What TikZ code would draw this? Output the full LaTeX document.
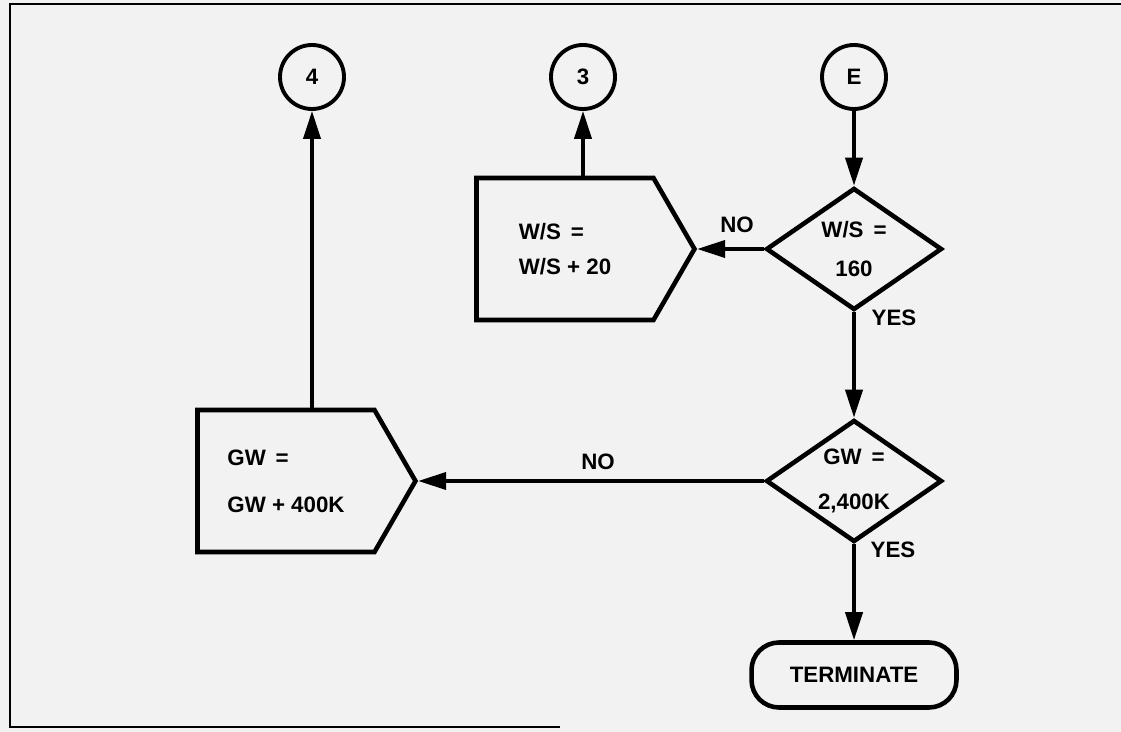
\documentclass[tikz,border=0pt]{standalone}
\usepackage{fontspec}
\setmainfont{Liberation Sans}
\usepackage{xcolor}
\usetikzlibrary{arrows.meta, positioning, calc, shapes.geometric, shapes.symbols}
\definecolor{paper}{RGB}{242,242,242}
\tikzset{
  connector/.style={draw, circle, line width=2.2pt, minimum size=1.28cm, inner sep=0pt},
  decision/.style={draw, diamond, aspect=1.45, line width=2.6pt, minimum width=3.52cm, minimum height=2.44cm, inner sep=0pt, align=center},
  process/.style={draw, signal, signal to=east, signal pointer angle=120, line width=2.6pt, minimum width=4.36cm, minimum height=2.84cm, inner sep=0pt, align=left},
  terminal/.style={draw, rounded corners=0.55cm, line width=2.6pt, minimum width=4.1cm, minimum height=1.3cm},
  flow/.style={-{Triangle[length=0.56cm, width=0.34cm]}, line width=2.2pt}
}

\begin{document}
\begin{tikzpicture}[x=0.02cm, y=-0.02cm, font=\fontsize{12.7}{15.2}\selectfont\bfseries]
        \useasboundingbox (0,0) rectangle (1121,732);
        \fill[paper] (0,0) rectangle (1121,732);

        % Page frame
        \draw[line width=1.2pt] (1121,4) -- (10,4) -- (10,727) -- (560,727);

        % Connectors
        \node[connector] (c4) at (312,77) {4};
        \node[connector] (c3) at (583,77) {3};
        \node[connector] (ce) at (854,77) {E};

        % Tests
        \node[decision] (ws test) at (854,249) {W/S \,=\\[0.26cm] 160};
        \node[decision] (gw test) at (854,481) {GW \,=\\[0.36cm] 2,400K};

        % Steps
        \node[process] (ws step) at (565,249) {W/S \,=\\[0.18cm] W/S + 20};
        \node[process] (gw step) at (286,481) {GW \,=\\[0.4cm] GW + 400K};
        \node[terminal] (stop) at (854,675) {TERMINATE};

        % Links
        \draw[flow] (ce) -- (ws test);
        \draw[flow] (ws test) -- (ws step.east);
        \draw[flow] (c3 |- ws step.north) -- (c3);
        \draw[flow] (ws test) -- (gw test);
        \draw[flow] (gw test) -- (gw step.east);
        \draw[flow] (c4 |- gw step.north) -- (c4);
        \draw[flow] (gw test) -- (stop);

        % Branch labels
        \node (no1) at (737,225) {NO};
        \node (yes1) at (894,318) {YES};
        \node (no2) at (598,462) {NO};
        \node (yes2) at (893,550) {YES};
    \end{tikzpicture}
\end{document}
